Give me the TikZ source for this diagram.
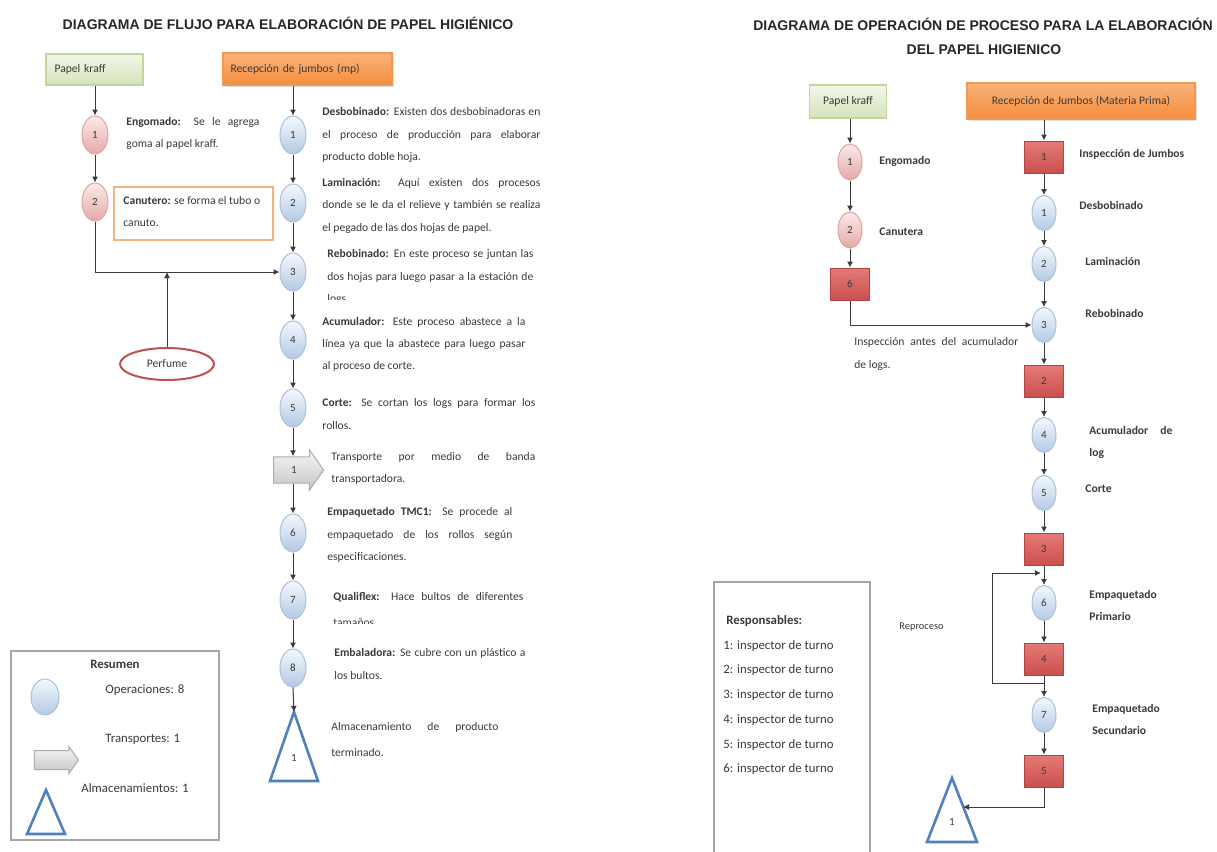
\documentclass[tikz,border=0pt]{standalone}
\usepackage{fontspec}
\setmainfont{Carlito}
\newfontfamily\headfont{Liberation Sans}
\usetikzlibrary{shapes.geometric,shapes.arrows,arrows.meta,shadows}

\definecolor{ink}{HTML}{3A3A3A}
\definecolor{pinkTop}{HTML}{FBEAEA}
\definecolor{pinkBot}{HTML}{E4A9A7}
\definecolor{pinkLine}{HTML}{E0A3A1}
\definecolor{blueTop}{HTML}{F4F8FC}
\definecolor{blueBot}{HTML}{B4C9E4}
\definecolor{blueLine}{HTML}{A9C0DD}
\definecolor{greenTop}{HTML}{F2F6E9}
\definecolor{greenBot}{HTML}{D5E3BB}
\definecolor{greenLine}{HTML}{C2D69B}
\definecolor{orangeTop}{HTML}{FAB27A}
\definecolor{orangeBot}{HTML}{F58E3E}
\definecolor{orangeLine}{HTML}{EE9A52}
\definecolor{redTop}{HTML}{E47B78}
\definecolor{redBot}{HTML}{C9504C}
\definecolor{redLine}{HTML}{B5433F}
\definecolor{storeBlue}{HTML}{4F81BD}
\definecolor{perfRed}{HTML}{C0504D}
\definecolor{frameGray}{HTML}{A6A6A6}
\definecolor{canLine}{HTML}{F7B27C}

% one justified line of a paragraph
\newcommand\jrow[2]{\makebox[#1][s]{#2}}

\tikzset{
  body/.style={anchor=base west, inner sep=0pt, text=ink, font=\fontsize{5.8}{7}\selectfont},
  bodyL/.style={body, font=\fontsize{6.4}{7.5}\selectfont},
  head/.style={inner sep=0pt, text=black!85, font=\headfont\bfseries\fontsize{7}{8}\selectfont},
  num/.style={font=\fontsize{5.5}{6}\selectfont, text=ink},
  opL/.style={ellipse, draw=pinkLine, line width=0.5pt, top color=pinkTop, bottom color=pinkBot,
    minimum width=13pt, minimum height=19pt, inner sep=0pt, num},
  opB/.style={ellipse, draw=blueLine, line width=0.5pt, top color=blueTop, bottom color=blueBot,
    minimum width=13pt, minimum height=19pt, inner sep=0pt, num},
  opLs/.style={opL, minimum width=12pt, minimum height=18pt},
  opBs/.style={opB, minimum width=12pt, minimum height=17.5pt},
  insp/.style={rectangle, draw=redLine, line width=0.5pt, top color=redTop, bottom color=redBot,
    minimum width=19.5pt, minimum height=16pt, inner sep=0pt, num},
  kraftbox/.style={rectangle, draw=greenLine, line width=0.6pt, top color=greenTop, bottom color=greenBot,
    inner sep=0pt, font=\fontsize{5.8}{7}\selectfont, text=ink},
  recbox/.style={rectangle, draw=orangeLine, line width=0.6pt, top color=orangeTop, bottom color=orangeBot,
    inner sep=0pt, font=\fontsize{5.8}{7}\selectfont, text=ink,
    drop shadow={shadow xshift=0.8pt, shadow yshift=-0.8pt, opacity=0.25}},
  conn/.style={draw=ink, line width=0.5pt, -{Latex[length=3pt,width=3pt]}},
  store/.style={draw=storeBlue, line width=1.3pt, fill=white, line join=miter},
  carry/.style={single arrow, draw=gray!65, line width=0.5pt, top color=gray!8, bottom color=gray!45,
    inner xsep=0pt, single arrow tip angle=110, num},
  frame/.style={draw=frameGray, line width=0.8pt, fill=white},
}

\begin{document}
\begin{tikzpicture}[x=0.5pt,y=-0.5pt]
\useasboundingbox (0,0) rectangle (1217,852);

%% ================= flow diagram =================
\node[head] (titleL) at (288,23) {DIAGRAMA DE FLUJO PARA ELABORACIÓN DE PAPEL HIGIÉNICO};

\node[kraftbox, minimum width=48.5pt, minimum height=15.5pt, text width=40pt, align=left, inner xsep=4.25pt]
  (kraftL) at (94.5,69.5) {Papel kraff};
\node[recbox, minimum width=84.5pt, minimum height=16pt, text width=77pt, align=left, inner xsep=3.75pt]
  (recL) at (307.5,69) {Recepción de jumbos (mp)};

% kraft paper branch
\node[opL] (l1) at (95,135) {1};
\node[opL] (l2) at (95,202) {2};
\node[draw=canLine, line width=0.6pt, fill=white, minimum width=79.5pt, minimum height=26.5pt, inner sep=0pt]
  (canbox) at (193.5,213.5) {};

% main line
\node[opB] (m1) at (293,135) {1};
\node[opB] (m2) at (293,203) {2};
\node[opB] (m3) at (293,272) {3};
\node[opB] (m4) at (293,340) {4};
\node[opB] (m5) at (293,408) {5};
\node[carry, minimum height=25pt, minimum width=20pt, inner ysep=4.6pt, single arrow head extend=3.5pt]
  (mv) at (294,470) {1};
\node[opB] (m6) at (293,533) {6};
\node[opB] (m7) at (293,600) {7};
\node[opB] (m8) at (293,668) {8};
\draw[store] (270,781) -- (294,712) -- (318,781) -- cycle;
\coordinate (triL) at (294,712);
\node[num] (triLn) at (294,758) {1};

\node[ellipse, draw=perfRed, line width=1pt, fill=white, minimum width=47pt, minimum height=16pt,
  inner sep=0pt, font=\fontsize{5.8}{7}\selectfont, text=ink] (perf) at (167,364) {Perfume};

% connectors
\draw[conn] (kraftL.south -| l1.north) -- (l1.north);
\draw[conn] (l1) -- (l2);
\draw[conn] (l2.south) |- (m3.west);
\draw[conn] (perf.north) -- (perf.north |- m3.west);
\draw[conn] (recL.south -| m1.north) -- (m1.north);
\draw[conn] (m1) -- (m2);
\draw[conn] (m2) -- (m3);
\draw[conn] (m3) -- (m4);
\draw[conn] (m4) -- (m5);
\draw[conn] (m5.south) -- (m5.south |- mv.north);
\draw[conn] (mv.south -| m6.north) -- (m6.north);
\draw[conn] (m6) -- (m7);
\draw[conn] (m7) -- (m8);
\draw[conn] (m8.south) -- (triL);

% step descriptions
\node[body] (tE1) at (126,125) {\jrow{66.5pt}{\textbf{Engomado:} Se le agrega}};
\node[body] (tE2) at (126,147) {goma al papel kraff.};
\node[body] (tC1) at (123,204) {\textbf{Canutero:} se forma el tubo o};
\node[body] (tC2) at (123,226) {canuto.};

\node[body] (tD1) at (322,115) {\jrow{109pt}{\textbf{Desbobinado:} Existen dos desbobinadoras en}};
\node[body] (tD2) at (322,138) {\jrow{109pt}{el proceso de producción para elaborar}};
\node[body] (tD3) at (322,160) {producto doble hoja.};
\node[body] (tL1) at (322,186) {\jrow{109pt}{\textbf{Laminación:} Aquí existen dos procesos}};
\node[body] (tL2) at (322,208) {\jrow{109pt}{donde se le da el relieve y también se realiza}};
\node[body] (tL3) at (322,231) {el pegado de las dos hojas de papel.};
\node[body] (tR1) at (327,257) {\jrow{103pt}{\textbf{Rebobinado:} En este proceso se juntan las}};
\node[body] (tR2) at (327,280) {\jrow{103pt}{dos hojas para luego pasar a la estación de}};
\begin{scope}
  \clip (320,290) rectangle (540,299);
  \node[body] (tR3) at (327,302) {logs.};
\end{scope}
\node[body] (tA1) at (322,325) {\jrow{101.5pt}{\textbf{Acumulador:} Este proceso abastece a la}};
\node[body] (tA2) at (322,347) {\jrow{101.5pt}{línea ya que la abastece para luego pasar}};
\node[body] (tA3) at (322,369) {al proceso de corte.};
\node[body] (tK1) at (322,406) {\jrow{106.5pt}{\textbf{Corte:} Se cortan los logs para formar los}};
\node[body] (tK2) at (322,429) {rollos.};
\node[body] (tT1) at (331,460) {\jrow{102pt}{Transporte por medio de banda}};
\node[body] (tT2) at (331,482) {transportadora.};
\node[body] (tP1) at (327,515) {\jrow{92.5pt}{\textbf{Empaquetado TMC1:} Se procede al}};
\node[body] (tP2) at (327,538) {\jrow{92.5pt}{empaquetado de los rollos según}};
\node[body] (tP3) at (327,560) {especificaciones.};
\node[body] (tQ1) at (333,600) {\jrow{95pt}{\textbf{Qualiflex:} Hace bultos de diferentes}};
\begin{scope}
  \clip (330,615) rectangle (540,623);
  \node[body] (tQ2) at (333,626) {tamaños.};
\end{scope}
\node[body] (tB1) at (334,656) {\jrow{95.5pt}{\textbf{Embaladora:} Se cubre con un plástico a}};
\node[body] (tB2) at (334,679) {los bultos.};
\node[body] (tS1) at (331,730) {\jrow{83.5pt}{Almacenamiento de producto}};
\node[body] (tS2) at (331,756) {terminado.};

% summary
\node[frame, minimum width=104pt, minimum height=94.5pt, inner sep=0pt] (sumbox) at (115,745.5) {};
\node[bodyL, anchor=base] (sumT) at (115,668) {\textbf{Resumen}};
\node[opB, minimum width=14pt, minimum height=18pt] (sumOp) at (45,697) {};
\node[carry, minimum height=22pt, minimum width=13pt, inner ysep=4.5pt, single arrow head extend=2pt]
  (sumMv) at (53,760) {};
\draw[store] (27,834) -- (46,790) -- (65,834) -- cycle;
\coordinate (sumSt) at (46,790);
\node[bodyL] (sumT1) at (105,693) {Operaciones: 8};
\node[bodyL] (sumT2) at (105,742) {Transportes: 1};
\node[bodyL] (sumT3) at (81,792) {Almacenamientos: 1};

%% ================= process chart =================
\node[head] (titleR1) at (983,24) {DIAGRAMA DE OPERACIÓN DE PROCESO PARA LA ELABORACIÓN};
\node[head] (titleR2) at (984,50) {DEL PAPEL HIGIENICO};

\node[kraftbox, minimum width=38.5pt, minimum height=16.5pt] (kraftR) at (848,101.5) {Papel kraff};
\node[recbox, minimum width=114pt, minimum height=18pt] (recR) at (1081,101) {Recepción de Jumbos (Materia Prima)};

\node[opLs] (a1) at (850,162) {1};
\node[opLs] (a2) at (850,230) {2};
\node[insp] (q6) at (850,284) {6};

\node[insp] (q1) at (1044,157) {1};
\node[opBs] (b1) at (1044,213) {1};
\node[opBs] (b2) at (1044,264) {2};
\node[opBs] (b3) at (1044,325) {3};
\node[insp] (q2) at (1044,381) {2};
\node[opBs] (b4) at (1044,435) {4};
\node[opBs] (b5) at (1044,493) {5};
\node[insp] (q3) at (1044,549) {3};
\node[opBs] (b6) at (1044,603) {6};
\node[insp] (q4) at (1044,659) {4};
\node[opBs] (b7) at (1044,715) {7};
\node[insp] (q5) at (1044,771) {5};
\draw[store] (927,842) -- (952,778) -- (977,842) -- cycle;
\coordinate (triR) at (963,807);
\node[num] (triRn) at (952,822) {1};

\coordinate (loopIn) at (1044,573);
\coordinate (loopOut) at (1044,683);
\coordinate (loopSide) at (992,628);

% connectors
\draw[conn] (kraftR.south -| a1.north) -- (a1.north);
\draw[conn] (a1) -- (a2);
\draw[conn] (a2) -- (q6);
\draw[conn] (q6.south) |- (b3.west);
\draw[conn] (recR.south -| q1.north) -- (q1.north);
\draw[conn] (q1) -- (b1);
\draw[conn] (b1) -- (b2);
\draw[conn] (b2) -- (b3);
\draw[conn] (b3) -- (q2);
\draw[conn] (q2) -- (b4);
\draw[conn] (b4) -- (b5);
\draw[conn] (b5) -- (q3);
\draw[conn] (q3) -- (b6);
\draw[conn] (b6) -- (q4);
\draw[conn] (q4) -- (b7);
\draw[conn] (b7) -- (q5);
\draw[conn] (q5.south) |- (triR);
\draw[conn, shorten >=1.5pt] (loopOut) -- (loopOut -| loopSide) -- (loopIn -| loopSide) -- (loopIn);

% labels
\node[body] (rE) at (879,164) {\textbf{Engomado}};
\node[body] (rC) at (879,235) {\textbf{Canutera}};
\node[body] (rI1) at (854,345) {\jrow{82pt}{Inspección antes del acumulador}};
\node[body] (rI2) at (854,368) {de logs.};
\node[body] (rQ1) at (1079,157) {\textbf{Inspección de Jumbos}};
\node[body] (rD) at (1079,209) {\textbf{Desbobinado}};
\node[body] (rL) at (1085,265) {\textbf{Laminación}};
\node[body] (rR) at (1085,317) {\textbf{Rebobinado}};
\node[body] (rA1) at (1089,434) {\jrow{41.5pt}{\textbf{Acumulador de}}};
\node[body] (rA2) at (1089,456) {\textbf{log}};
\node[body] (rK) at (1085,492) {\textbf{Corte}};
\node[body] (rP1) at (1089,598) {\textbf{Empaquetado}};
\node[body] (rP2) at (1089,620) {\textbf{Primario}};
\node[body] (rS1) at (1092,712) {\textbf{Empaquetado}};
\node[body] (rS2) at (1092,734) {\textbf{Secundario}};
\node[body, font=\fontsize{5.2}{6}\selectfont] (rRe) at (899,629) {Reproceso};

% people in charge
\node[frame, minimum width=78pt, minimum height=144pt, inner sep=0pt] (resp) at (792,726) {};
\node[bodyL] (resT) at (726,624) {\textbf{Responsables:}};
\node[bodyL] (res1) at (723,649) {1: inspector de turno};
\node[bodyL] (res2) at (723,673) {2: inspector de turno};
\node[bodyL] (res3) at (723,698) {3: inspector de turno};
\node[bodyL] (res4) at (723,723) {4: inspector de turno};
\node[bodyL] (res5) at (723,748) {5: inspector de turno};
\node[bodyL] (res6) at (723,772) {6: inspector de turno};
\end{tikzpicture}
\end{document}
